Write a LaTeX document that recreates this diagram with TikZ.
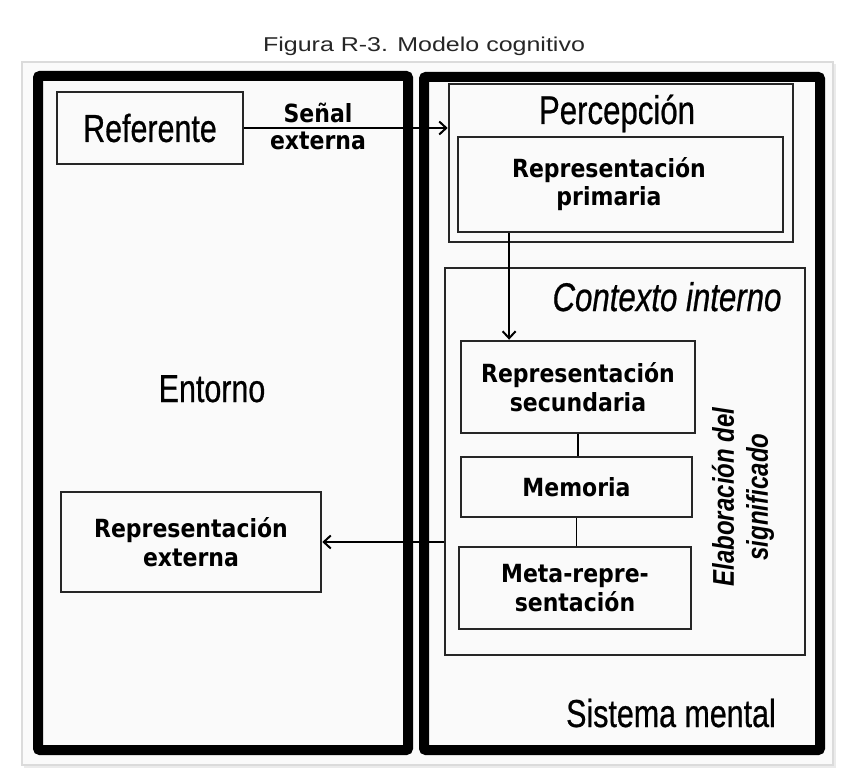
\documentclass[tikz,border=0pt]{standalone}
\usepackage{fontspec}
\usetikzlibrary{arrows.meta,calc}
\newfontfamily\myBigFont{Liberation Sans}[FakeStretch=0.78,FakeBold=0.6]
\newfontfamily\myBoldFont{DejaVu Sans}[FakeStretch=0.88]
\newfontfamily\myElabFont{Liberation Sans}[FakeStretch=0.8]
\newfontfamily\myTitleFont{Liberation Sans}[FakeStretch=1.25]
\begin{document}
\begin{tikzpicture}[x=1pt,y=-1pt,
  thickbox/.style={draw=black, line width=10pt, inner sep=0pt, rounded corners=2pt},
  plainbox/.style={draw=black!85, line width=2.6pt, inner sep=0pt},
  inbox/.style={plainbox, align=center,
    font=\myBoldFont\bfseries\fontsize{25}{28.5}\selectfont},
  bigtxt/.style={inner sep=0pt, font=\myBigFont\fontsize{39}{46}\selectfont},
  boldtxt/.style={inner sep=0pt, align=center, font=\myBoldFont\bfseries\fontsize{25}{27}\selectfont},
  conn/.style={line width=1.8pt},
  arr/.style={conn, -{Straight Barb[length=7pt,width=13pt,line width=2pt]}}]
\useasboundingbox (0,0) rectangle (843,778);
\fill[white] (0,0) rectangle (843,778);
% frame
\fill[black!8] (24,64) rectangle (836,768);
\draw[draw=black!14, line width=1.2pt, fill=black!2] (22,62) rectangle (833,765);
% title
\node[inner sep=0pt, anchor=base, font=\myTitleFont\fontsize{20}{24}\selectfont, text=black!85] (title) at (424,52) {Figura R-3. Modelo cognitivo};
% thick containers
\node[thickbox, minimum width=370pt, minimum height=674pt] (envbox) at (223,413) {};
\node[thickbox, minimum width=396pt, minimum height=673pt] (mentbox) at (622,413.5) {};
% left side
\node[plainbox, minimum width=186pt, minimum height=72pt, font=\myBigFont\fontsize{39}{46}\selectfont] (ref) at (150,128) {Referente};
\node[bigtxt, anchor=base] (ent) at (212,402) {Entorno};
\node[inbox, minimum width=260pt, minimum height=100pt] (ext) at (191,542) {Representación\\externa};
% right side
\node[plainbox, minimum width=344pt, minimum height=158pt] (perc) at (621,163) {};
\node[bigtxt, anchor=base, font=\myBigFont\fontsize{40}{46}\selectfont] (perclab) at (617,124) {Percepción};
\node[plainbox, minimum width=325pt, minimum height=95pt] (prim) at (620.5,184.5) {};
\node[boldtxt, font=\myBoldFont\bfseries\fontsize{25}{28.5}\selectfont] (primtxt) at (609,184) {Representación\\primaria};
\node[plainbox, minimum width=360pt, minimum height=387pt] (ctx) at (625,461.5) {};
\node[bigtxt, anchor=base, font=\myBigFont\itshape\fontsize{40}{46}\selectfont] (ctxlab) at (667,311) {Contexto interno};
\node[inbox, minimum width=234pt, minimum height=92pt] (sec) at (578,387) {Representación\\secundaria};
\node[inbox, minimum width=231pt, minimum height=60pt] (mem) at (576.5,487) {Memoria};
\node[inbox, minimum width=232pt, minimum height=82pt] (meta) at (575,588) {Meta-repre-\\sentación};
\node[inner sep=0pt, align=center, rotate=90, font=\myElabFont\bfseries\itshape\fontsize{30}{34}\selectfont] (elab) at (743,497) {Elaboración del\\significado};
\node[bigtxt, anchor=base] (sist) at (671,727) {Sistema mental};
% signal label
\node[boldtxt] (senal) at (318,126) {Señal\\externa};
% connectors
\draw[arr] (ref.east) -- (ref.east -| perc.west);
\coordinate (pdown) at ($(prim.south west)!0.16!(prim.south east)$);
\draw[arr] (pdown) -- (pdown |- sec.north);
\draw[conn] (sec.south) -- (sec.south |- mem.north);
\draw[conn] (mem.south) -- (mem.south |- meta.north);
\draw[arr] (ctx.west |- ext.east) -- (ext.east);
\end{tikzpicture}
\end{document}
